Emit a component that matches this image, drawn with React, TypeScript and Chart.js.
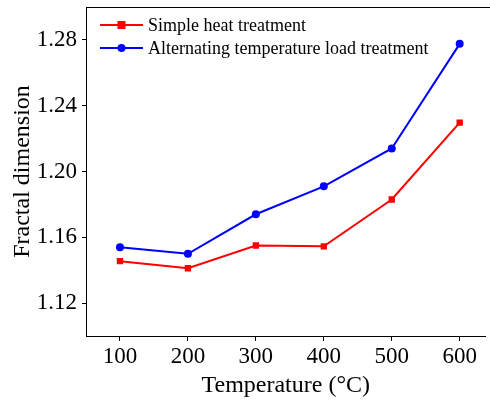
import React, { useEffect, useRef } from "react";
import { Chart, registerables } from "chart.js";

Chart.register(...registerables);

const temperatures = [100, 200, 300, 400, 500, 600];
const simpleHeat = [1.1455, 1.1412, 1.155, 1.1545, 1.183, 1.2297];
const alternatingLoad = [1.154, 1.150, 1.174, 1.191, 1.214, 1.2776];
const yTicks = [1.12, 1.16, 1.2, 1.24, 1.28];
const xTicks = [100, 200, 300, 400, 500, 600];

const FONT = "'Liberation Serif', 'Times New Roman', serif";

const framePlugin = {
  id: "frame",
  afterDraw(chart: any) {
    const { ctx, chartArea } = chart;
    ctx.save();
    ctx.strokeStyle = "#000";
    ctx.lineWidth = 1;
    ctx.beginPath();
    ctx.moveTo(chartArea.left, chartArea.top + 0.5);
    ctx.lineTo(chartArea.right + 5, chartArea.top + 0.5);
    ctx.stroke();
    // legend
    const items = chart.data.datasets;
    const x0 = chartArea.left + 14;
    const x1 = x0 + 43;
    items.forEach((ds: any, i: number) => {
      const y = chartArea.top + 18 + i * 23;
      ctx.strokeStyle = ds.borderColor;
      ctx.lineWidth = 2;
      ctx.beginPath();
      ctx.moveTo(x0, y);
      ctx.lineTo(x1, y);
      ctx.stroke();
      ctx.fillStyle = ds.borderColor;
      const cx = (x0 + x1) / 2;
      if (ds.pointStyle === "rect") {
        ctx.fillRect(cx - 4, y - 4, 8, 8);
      } else {
        ctx.beginPath();
        ctx.arc(cx, y, 4, 0, Math.PI * 2);
        ctx.fill();
      }
      ctx.fillStyle = "#000";
      ctx.font = `18px ${FONT}`;
      ctx.textBaseline = "middle";
      ctx.textAlign = "left";
      ctx.fillText(ds.label, x1 + 5, y + 1);
    });
    ctx.restore();
  },
};

export default function App() {
  const ref = useRef<HTMLCanvasElement>(null);
  useEffect(() => {
    document.body.style.margin = "0";
    const chart = new Chart(ref.current!, {
      type: "line",
      data: {
        datasets: [
          {
            label: "Simple heat treatment",
            data: temperatures.map((t, i) => ({ x: t, y: simpleHeat[i] })),
            borderColor: "#ff0000",
            backgroundColor: "#ff0000",
            borderWidth: 2,
            pointStyle: "rect",
            pointRadius: 4.5,
            pointBorderWidth: 0,
          },
          {
            label: "Alternating temperature load treatment",
            data: temperatures.map((t, i) => ({ x: t, y: alternatingLoad[i] })),
            borderColor: "#0000ff",
            backgroundColor: "#0000ff",
            borderWidth: 2,
            pointStyle: "circle",
            pointRadius: 4,
            pointBorderWidth: 0,
          },
        ],
      },
      options: {
        animation: false,
        responsive: false,
        layout: { padding: { top: 7, right: 0, left: 0, bottom: 0 } },
        plugins: { legend: { display: false }, tooltip: { enabled: false } },
        scales: {
          x: {
            type: "linear",
            min: 50,
            max: 638,
            afterBuildTicks: (s: any) => {
              s.ticks = xTicks.map((v) => ({ value: v }));
            },
            afterFit: (s: any) => {
              s.height = 64;
              s.paddingLeft = 0;
              s.paddingRight = 0;
            },
            grid: { drawOnChartArea: false, drawTicks: true, tickLength: 5, color: "#000" },
            border: { display: true, color: "#000", width: 1 },
            ticks: { color: "#000", font: { family: FONT, size: 23 }, padding: 2, maxRotation: 0 },
            title: {
              display: true,
              text: "Temperature (°C)",
              color: "#000",
              font: { family: FONT, size: 24 },
              padding: { top: 2, bottom: 0 },
            },
          },
          y: {
            min: 1.1,
            max: 1.3,
            afterBuildTicks: (s: any) => {
              s.ticks = yTicks.map((v) => ({ value: v }));
            },
            afterFit: (s: any) => {
              s.width = 86;
              s.paddingTop = 0;
              s.paddingBottom = 0;
            },
            grid: { drawOnChartArea: false, drawTicks: true, tickLength: 4, color: "#000" },
            border: { display: true, color: "#000", width: 1 },
            ticks: {
              color: "#000",
              font: { family: FONT, size: 23 },
              padding: 5,
              callback: (v: any) => Number(v).toFixed(2),
            },
            title: {
              display: true,
              text: "Fractal dimension",
              color: "#000",
              font: { family: FONT, size: 24 },
              padding: { top: 8, bottom: 0 },
            },
          },
        },
      },
      plugins: [framePlugin],
    } as any);
    return () => chart.destroy();
  }, []);
  return <canvas ref={ref} width={490} height={400} style={{ display: "block" }} />;
}
